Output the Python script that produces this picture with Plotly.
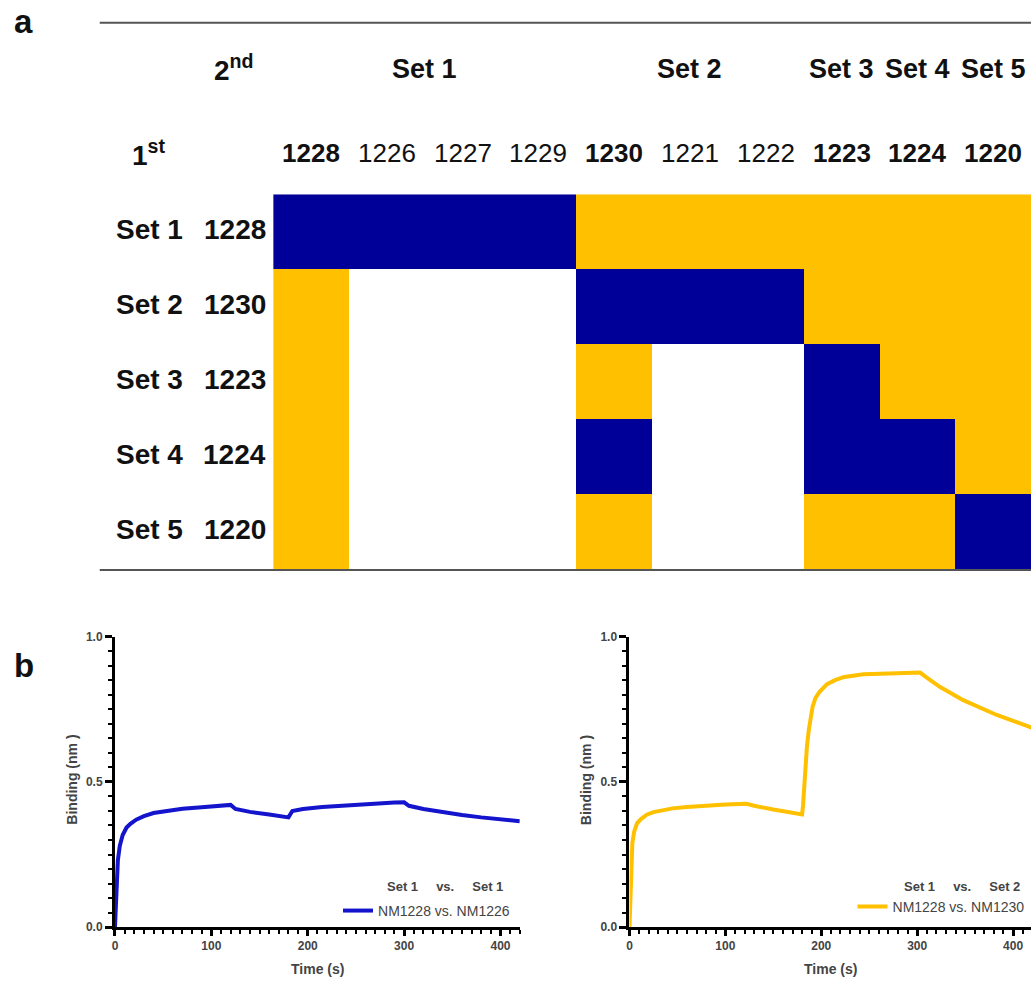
import plotly.graph_objects as go

# ---- panel a: competition matrix ----
col_ids = ["1228", "1226", "1227", "1229", "1230", "1221", "1222", "1223", "1224", "1220"]
col_is_rep = [True, False, False, False, True, False, False, True, True, True]
col_sets = ["Set 1", "Set 1", "Set 1", "Set 1", "Set 2", "Set 2", "Set 2", "Set 3", "Set 4", "Set 5"]

row_ids = ["1228", "1230", "1223", "1224", "1220"]
row_sets = ["Set 1", "Set 2", "Set 3", "Set 4", "Set 5"]

# 2 = competes (same epitope), 1 = non-competing, None = not tested
matrix = [
    [2, 2, 2, 2, 1, 1, 1, 1, 1, 1],
    [1, None, None, None, 2, 2, 2, 1, 1, 1],
    [1, None, None, None, 1, None, None, 2, 1, 1],
    [1, None, None, None, 2, None, None, 2, 2, 1],
    [1, None, None, None, 1, None, None, 1, 1, 2],
]

# ---- panel b: binding sensorgrams ----
t_blue = [0, 1, 2, 3, 5, 8, 12, 16, 22, 30, 40, 55, 70, 90, 110, 120, 125, 140, 160, 178,
          180, 184, 195, 215, 240, 265, 290, 300, 305, 320, 340, 360, 380, 400, 420]
v_blue = [0.0, 0.10, 0.18, 0.23, 0.28, 0.317, 0.343, 0.356, 0.370, 0.382, 0.393, 0.402, 0.408,
          0.413, 0.418, 0.421, 0.407, 0.397, 0.388, 0.379, 0.378, 0.400, 0.407, 0.414, 0.420,
          0.425, 0.429, 0.430, 0.418, 0.407, 0.396, 0.386, 0.378, 0.371, 0.365]

t_yellow = [0, 1, 2, 3, 5, 8, 12, 18, 25, 35, 45, 60, 80, 100, 122, 130, 150, 170, 180, 181,
            182, 183.5, 185, 187, 189, 191, 194, 198, 206, 215, 224, 244, 279, 303, 310, 315,
            324, 348, 383, 420]
v_yellow = [0.0, 0.14, 0.24, 0.29, 0.33, 0.358, 0.372, 0.387, 0.396, 0.404, 0.409, 0.414,
            0.419, 0.422, 0.425, 0.418, 0.405, 0.393, 0.388, 0.42, 0.47, 0.56, 0.62, 0.68, 0.73,
            0.76, 0.79, 0.81, 0.837, 0.852, 0.862, 0.871, 0.875, 0.877, 0.86, 0.848, 0.827,
            0.782, 0.731, 0.687]

pair_blue = ("Set 1", "Set 1", "NM1228 vs. NM1226")
pair_yellow = ("Set 1", "Set 2", "NM1228 vs. NM1230")

BLUE_CELL = "#000099"
YELLOW = "#FFC000"
BLUE_LINE = "#1414CC"
TXT = "#111111"
GREY = "#444444"

W, H = 1031, 985


def px(x):
    return x / W


def py(y):
    return 1 - y / H


SANS = "Liberation Sans, Arial, sans-serif"

fig = go.Figure()

fig.add_trace(go.Heatmap(
    z=matrix, x=list(range(len(col_ids))), y=list(range(len(row_ids))),
    colorscale=[[0, YELLOW], [0.5, YELLOW], [0.5, BLUE_CELL], [1, BLUE_CELL]],
    zmin=1, zmax=2, showscale=False, hoverinfo="skip",
    xaxis="x", yaxis="y",
))

fig.add_trace(go.Scatter(
    x=t_blue, y=v_blue, mode="lines", name=pair_blue[2],
    line=dict(color=BLUE_LINE, width=4), xaxis="x2", yaxis="y2", legend="legend",
))
fig.add_trace(go.Scatter(
    x=t_yellow, y=v_yellow, mode="lines", name=pair_yellow[2],
    line=dict(color=YELLOW, width=4), xaxis="x3", yaxis="y3", legend="legend2",
))

ann = []

# column headers
for i, (cid, rep) in enumerate(zip(col_ids, col_is_rep)):
    ann.append(dict(
        x=i, xref="x", y=py(148), yref="paper", showarrow=False,
        text=f"<b>{cid}</b>" if rep else cid,
        font=dict(family=SANS, size=26, color=TXT),
        xanchor="center", yanchor="middle",
    ))

# set group headers over the columns
groups = []
for i, s in enumerate(col_sets):
    if groups and groups[-1][0] == s:
        groups[-1][2] = i
    else:
        groups.append([s, i, i])
for s, a, b in groups:
    ann.append(dict(
        x=(a + b) / 2, xref="x", y=py(63), yref="paper", showarrow=False,
        text=f"<b>{s}</b>", font=dict(family=SANS, size=27, color=TXT),
        xanchor="center", yanchor="middle",
    ))

# row headers
for j, (rid, rs) in enumerate(zip(row_ids, row_sets)):
    ann.append(dict(
        x=px(266), xref="paper", y=j, yref="y", yshift=2, showarrow=False,
        text=f"<b>{rid}</b>", font=dict(family=SANS, size=28, color=TXT),
        xanchor="right", yanchor="middle",
    ))
    ann.append(dict(
        x=px(111), xref="paper", y=j, yref="y", yshift=2, showarrow=False,
        text=f"<b>{rs}</b>", font=dict(family=SANS, size=28, color=TXT),
        xanchor="left", yanchor="middle",
    ))

ann.append(dict(x=px(232), xref="paper", y=py(62), yref="paper", showarrow=False,
                text="<b>2<sup>nd</sup></b>", font=dict(family=SANS, size=28, color=TXT),
                xanchor="center", yanchor="middle"))
ann.append(dict(x=px(146), xref="paper", y=py(148), yref="paper", showarrow=False,
                text="<b>1<sup>st</sup></b>", font=dict(family=SANS, size=28, color=TXT),
                xanchor="center", yanchor="middle"))

# panel letters
ann.append(dict(x=px(9), xref="paper", y=py(15), yref="paper", showarrow=False,
                text="<b>a</b>", font=dict(family=SANS, size=33, color=TXT),
                xanchor="left", yanchor="middle"))
ann.append(dict(x=px(9), xref="paper", y=py(668), yref="paper", showarrow=False,
                text="<b>b</b>", font=dict(family=SANS, size=33, color=TXT),
                xanchor="left", yanchor="middle"))

# sensorgram axis titles and pair headers
for xa, ytitle_x, pair, head_right in (("x2", 69, pair_blue, 503), ("x3", 585, pair_yellow, 1022)):
    ann.append(dict(x=px(ytitle_x), xref="paper", y=py(784), yref="paper", showarrow=False,
                    text="<b>Binding (nm )</b>", textangle=-90,
                    font=dict(family=SANS, size=14, color=GREY),
                    xanchor="center", yanchor="middle"))
    ann.append(dict(x=0.5, xref=f"{xa} domain", y=py(976), yref="paper", showarrow=False,
                    text="<b>Time (s)</b>", font=dict(family=SANS, size=14, color=GREY),
                    xanchor="center", yanchor="middle"))
    sp = "\u00a0" * 5
    ann.append(dict(x=px(head_right), xref="paper", y=py(892), yref="paper", showarrow=False,
                    text=f"<b>{pair[0]}{sp}vs.{sp}{pair[1]}</b>",
                    font=dict(family=SANS, size=13, color=GREY),
                    xanchor="right", yanchor="middle"))

fig.update_layout(annotations=ann)

# rules above and below the matrix
for yline in (16, 571):
    fig.add_shape(type="line", xref="paper", yref="paper",
                  x0=px(97), x1=1, y0=py(yline), y1=py(yline),
                  line=dict(color="#555555", width=2))

fig.update_layout(
    width=W, height=H, margin=dict(l=0, r=0, t=0, b=0),
    paper_bgcolor="white", plot_bgcolor="white",
    xaxis=dict(domain=[px(271), 1.0], range=[-0.5, 9.5], visible=False, anchor="y"),
    yaxis=dict(domain=[py(570), py(190)], range=[4.5, -0.5], visible=False, anchor="x"),
)

tickfont = dict(family=SANS, size=12, color=GREY, weight="bold")
for xa, ya, x0, x1 in (("xaxis2", "yaxis2", 112.3, 518.3), ("xaxis3", "yaxis3", 628.3, 1031)):
    xname = "x" + xa[-1]
    yname = "y" + ya[-1]
    fig.update_layout({
        xa: dict(domain=[px(x0), px(x1)], range=[0, 420 if x1 < 1000 else 418.7],
                 anchor=yname, showline=True, linewidth=3, linecolor="black",
                 ticks="outside", ticklen=6, tickwidth=3, tickcolor="black",
                 dtick=100, tick0=0, showgrid=False, zeroline=False, tickfont=tickfont,
                 minor=dict(ticks="outside", ticklen=4, tickwidth=2, tickcolor="black",
                            dtick=10, showgrid=False)),
        ya: dict(domain=[py(933.3), py(639)], range=[0, 1], anchor=xname,
                 showline=True, linewidth=3, linecolor="black",
                 ticks="outside", ticklen=7, tickwidth=3, tickcolor="black",
                 dtick=0.5, tick0=0, tickformat=".1f", showgrid=False, zeroline=False,
                 tickfont=tickfont,
                 minor=dict(ticks="outside", ticklen=4, tickwidth=2, tickcolor="black",
                            dtick=0.05, showgrid=False)),
    })

legend_font = dict(family=SANS, size=14, color=GREY)
fig.update_layout(
    legend=dict(x=px(336), y=py(917), xanchor="left", yanchor="middle",
                bgcolor="rgba(0,0,0,0)", font=legend_font, itemwidth=30,
                tracegroupgap=0),
    legend2=dict(x=px(852), y=py(913), xanchor="left", yanchor="middle",
                 bgcolor="rgba(0,0,0,0)", font=legend_font, itemwidth=30,
                 tracegroupgap=0),
    showlegend=True,
)

fig.write_html("out.html")
